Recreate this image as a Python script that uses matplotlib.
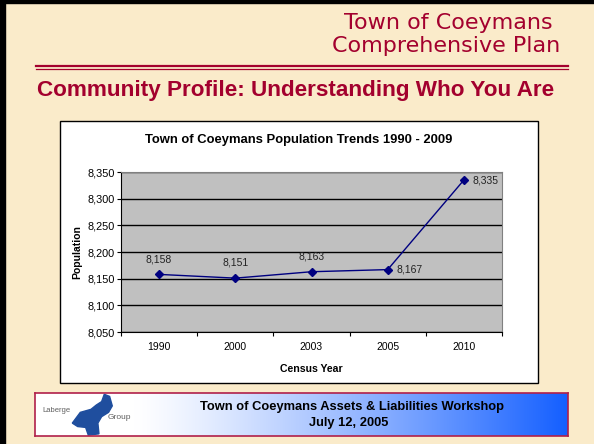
import numpy as np
import matplotlib
matplotlib.use("Agg")
import matplotlib.pyplot as plt
from matplotlib.patches import Rectangle, Polygon
from matplotlib.ticker import FuncFormatter, MultipleLocator

plt.rcParams['font.family'] = ['Liberation Sans', 'DejaVu Sans']

# Data
years = ['1990', '2000', '2003', '2005', '2010']
population = [8158, 8151, 8163, 8167, 8335]
label_side = ['above', 'above', 'above', 'right', 'right']

W, H = 594, 444
fig = plt.figure(figsize=(W / 100, H / 100), dpi=100)
fig.patch.set_facecolor('#FAEBCA')


def fx(px):
    return px / W


def fy(py):
    return 1 - py / H


dark_red = '#A3002E'

# Slide border (left and top)
fig.add_artist(Rectangle((0, 0), fx(5), 1, transform=fig.transFigure, color='black'))
fig.add_artist(Rectangle((0, fy(3.5)), 1, 3.5 / H, transform=fig.transFigure, color='black'))

# Header
fig.text(fx(448), fy(29), 'Town of Coeymans', ha='center', va='baseline',
         fontsize=16, color=dark_red, family='DejaVu Sans')
fig.text(fx(446), fy(52), 'Comprehensive Plan', ha='center', va='baseline',
         fontsize=16, color=dark_red, family='DejaVu Sans')
fig.add_artist(plt.Line2D([fx(36), fx(568)], [fy(65.8), fy(65.8)],
                          transform=fig.transFigure, color=dark_red, lw=1.6))
fig.add_artist(plt.Line2D([fx(36), fx(568)], [fy(68.8), fy(68.8)],
                          transform=fig.transFigure, color=dark_red, lw=0.9))
fig.text(fx(296), fy(96), 'Community Profile: Understanding Who You Are',
         ha='center', va='baseline', fontsize=16.2, fontweight='bold', color=dark_red)

# Chart box
fig.add_artist(Rectangle((fx(60), fy(383)), fx(538) - fx(60), fy(121) - fy(383),
                         transform=fig.transFigure, facecolor='white',
                         edgecolor='black', lw=1, zorder=-1))
fig.text(fx(299), fy(143), 'Town of Coeymans Population Trends 1990 - 2009',
         ha='center', va='baseline', fontsize=9.4, fontweight='bold')

ax = fig.add_axes([fx(121), fy(332), fx(502) - fx(121), fy(172) - fy(332)])
ax.set_facecolor('#C0C0C0')
x = np.arange(len(years))
ax.plot(x, population, color='#000080', lw=1, marker='D', markersize=4.5,
        zorder=3)
ax.set_xlim(-0.5, len(years) - 0.5)
ax.set_ylim(8050, 8350)
ax.yaxis.set_major_locator(MultipleLocator(50))
ax.yaxis.set_major_formatter(FuncFormatter(lambda v, p: f'{int(v):,}'))
ax.grid(axis='y', color='black', lw=1)
ax.set_axisbelow(True)
ax.set_xticks(np.arange(len(years) + 1) - 0.5, minor=False)
ax.set_xticklabels([])
ax.set_xticks(x, minor=True)
ax.set_xticklabels(years, minor=True)
ax.tick_params(axis='x', which='minor', length=0, pad=7, labelsize=7.5)
ax.tick_params(axis='x', which='major', length=3, direction='out', width=0.8)
ax.tick_params(axis='y', length=3, width=0.8, labelsize=7.8, pad=1.5)
for s in ['top', 'right']:
    ax.spines[s].set_color('#808080')
for s in ['left', 'bottom']:
    ax.spines[s].set_color('black')

for xi, yi, side in zip(x, population, label_side):
    txt = f'{yi:,}'
    if side == 'above':
        ax.annotate(txt, (xi, yi), xytext=(0, 11), textcoords='offset points',
                    ha='center', va='center', fontsize=7.5, color='#222222')
    else:
        ax.annotate(txt, (xi, yi), xytext=(6, 0), textcoords='offset points',
                    ha='left', va='center', fontsize=7.5, color='#222222')

ax.set_xlabel('Census Year', fontsize=7.6, fontweight='bold', labelpad=9)
ax.set_ylabel('Population', fontsize=7.5, fontweight='bold', labelpad=4)

# Footer banner with gradient
fax = fig.add_axes([fx(35), fy(436), fx(568) - fx(35), fy(393) - fy(436)])
t = np.linspace(0, 1, 400)
start = 100 / 533
g = np.clip((t - start) / (1 - start), 0, 1) ** 1.2
r = 1 - g * (1 - 20 / 255)
gg = 1 - g * (1 - 95 / 255)
b = np.ones_like(t)
grad = np.stack([r, gg, b], axis=-1)[None, :, :]
fax.imshow(grad, aspect='auto', extent=[0, 1, 0, 1])
fax.set_xlim(0, 1)
fax.set_ylim(0, 1)
fax.set_xticks([])
fax.set_yticks([])
for s in fax.spines.values():
    s.set_color('#B0204A')
    s.set_linewidth(1.2)
fig.text(fx(352), fy(409.5), 'Town of Coeymans Assets & Liabilities Workshop',
         ha='center', va='baseline', fontsize=9.3, fontweight='bold')
fig.text(fx(349), fy(426), 'July 12, 2005', ha='center', va='baseline',
         fontsize=9.3, fontweight='bold')

# Logo (rough New England outline)
fax.add_patch(Polygon([[0.070, 0.30], [0.085, 0.55], [0.105, 0.62], [0.115, 0.72],
                       [0.125, 0.80], [0.130, 0.97], [0.140, 0.92], [0.145, 0.70],
                       [0.138, 0.55], [0.125, 0.45], [0.118, 0.30], [0.120, 0.05],
                       [0.100, 0.02], [0.095, 0.20], [0.080, 0.22]],
                      closed=True, color='#1F4E9E'))
fig.text(fx(42), fy(410), 'Laberge', fontsize=5.5, color='#606060', va='center')
fig.text(fx(108), fy(417), 'Group', fontsize=6, color='#606060', va='center')

fig.savefig('out.png', dpi=100, facecolor=fig.get_facecolor())
